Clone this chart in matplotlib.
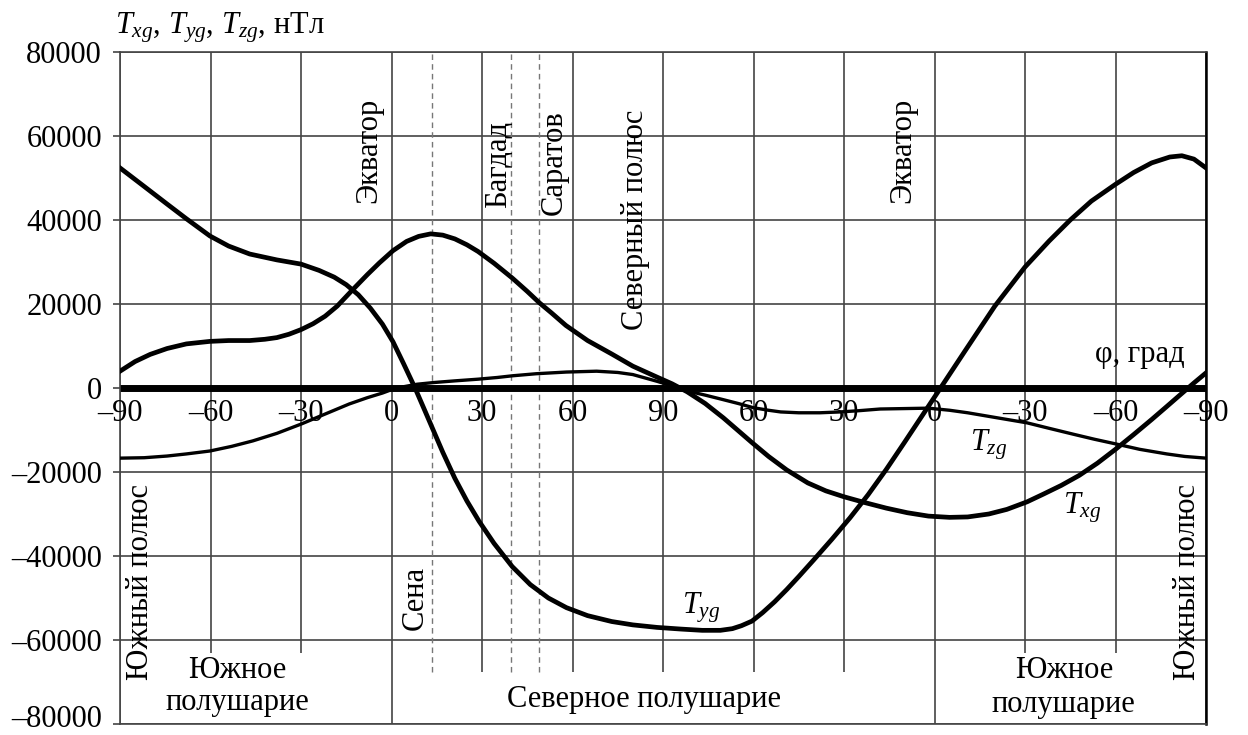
import matplotlib
matplotlib.use('Agg')
import matplotlib.pyplot as plt
import matplotlib.transforms as mtransforms

plt.rcParams['font.family'] = 'Liberation Serif'
plt.rcParams['mathtext.fontset'] = 'custom'
plt.rcParams['mathtext.rm'] = 'Liberation Serif'
plt.rcParams['mathtext.it'] = 'Liberation Serif:italic'

# position along the meridian, deg (0..360), and field values, nT
tyg_p = [0, 8, 15.6, 22, 29.8, 36, 43, 52, 60, 66, 71, 75, 79, 83, 87, 90.5, 94, 97.8, 101, 104,
         107, 111, 115, 119, 124, 130, 136, 142, 148, 155, 163, 170, 178, 186, 193, 199, 203, 206, 209.5, 213,
         217, 221, 225, 230, 236, 242, 248, 254, 260, 266, 272, 280, 290, 300, 308, 315, 322, 330, 336, 342,
         348, 352, 356, 360]
tyg_v = [52400, 48000, 43800, 40300, 36200, 33800, 31900, 30500, 29500, 28000, 26400, 24600, 22200, 19000,
         15200, 11000, 5800, 0, -5300, -10300, -15300, -21500, -26900, -31700, -37000, -42500, -46800, -50000,
         -52300, -54200, -55600, -56400, -57000, -57400, -57700, -57700, -57300, -56600, -55500, -53500,
         -50900, -48000, -44900, -40900, -36000, -30900, -25400, -19400, -13000, -6500, 0, 8700, 19500, 28800,
         35000, 40000, 44500, 48500, 51300, 53600, 55000, 55300, 54500, 52400]

txg_p = [0, 5, 10, 15.6, 22, 29.8, 36, 43, 48, 52, 56, 60, 64, 68, 72, 77, 82, 86, 90.5, 95,
         99, 103, 107, 111, 115, 118.7, 124, 130, 135, 139, 143, 147.8, 155, 163, 170, 178, 183, 188, 194, 200,
         205, 209.5, 215, 221, 228, 234, 240, 247, 254, 261, 268, 275, 281, 288, 294, 300.7, 306, 312, 318, 324,
         330, 336, 342, 347, 351, 356, 360]
txg_v = [4000, 6300, 8000, 9400, 10500, 11100, 11300, 11300, 11600, 12000, 12800, 13900, 15300, 17100, 19500,
         23300, 27000, 29800, 32700, 34900, 36100, 36700, 36400, 35500, 34100, 32500, 29700, 26200, 23000, 20300,
         17900, 14900, 11300, 8100, 5200, 2600, 1000, -900, -3700, -7100, -10200, -13000, -16300, -19500,
         -22600, -24500, -25900, -27300, -28600, -29700, -30500, -30800, -30700, -30000, -28900, -27100,
         -25300, -23200, -20800, -17900, -14600, -11100, -7500, -4400, -1900, 1200, 3600]

tzg_p = [0, 8, 15.6, 22, 29.8, 37, 44, 52, 60, 68, 76, 82, 87, 90, 94, 98.5, 104, 111, 118.7, 125,
         130, 138, 148, 158, 165, 170, 178, 183, 188, 194, 199, 205, 210, 215, 219, 225, 232, 238.7, 245, 252,
         260, 268, 275, 281, 290, 300.7, 308, 316, 323, 330, 338, 347, 353, 360]
tzg_v = [-16700, -16600, -16200, -15700, -15000, -13900, -12600, -10800, -8600, -6200, -3800, -2300, -1200,
         -400, 300, 900, 1300, 1700, 2100, 2500, 2900, 3400, 3800, 4000, 3700, 3200, 1600, 500, -700, -1700,
         -2600, -3700, -4700, -5300, -5700, -5900, -5900, -5700, -5400, -5000, -4900, -4800, -5300, -5900,
         -7000, -8300, -9600, -11000, -12200, -13300, -14600, -15700, -16300, -16700]

x_ticks = [0, 30, 60, 90, 120, 150, 180, 210, 240, 270, 300, 330, 360]
x_labels = ['–90', '–60', '–30', '0', '30', '60', '90', '60', '30', '0', '–30', '–60', '–90']
y_ticks = [-80000, -60000, -40000, -20000, 0, 20000, 40000, 60000, 80000]
y_labels = ['–80000', '–60000', '–40000', '–20000', '0', '20000', '40000', '60000', '80000']

cities = ['Сена', 'Багдад', 'Саратов']
city_p = [103.5, 129.5, 139]

FS = 22
GRID = '#444444'

fig = plt.figure(figsize=(12.48, 7.35), dpi=100)
ax = fig.add_axes([120 / 1248, 11 / 735, 1086 / 1248, 672 / 735])
ax.set_xlim(0, 360)
ax.set_ylim(-80000, 80000)

# grid
for y in y_ticks:
    if y != 0:
        ax.axhline(y, color=GRID, lw=1.2, zorder=1)
for x in x_ticks:
    if x in (0, 90, 270, 360):
        ax.axvline(x, color=GRID, lw=1.2, zorder=1)
    elif 90 < x < 270:
        ax.vlines(x, -67500, 80000, color=GRID, lw=1.2, zorder=1)
    else:
        ax.vlines(x, -63000, 80000, color=GRID, lw=1.2, zorder=1)
for p in city_p:
    ax.vlines(p, -67500, 80000, color='#777777', lw=1.0, linestyles=(0, (4, 3)), zorder=1)
ax.axhline(0, color='black', lw=5, zorder=2)

ax.plot(tyg_p, tyg_v, color='black', lw=3.4, zorder=3, solid_joinstyle='round')
ax.plot(txg_p, txg_v, color='black', lw=3.4, zorder=3, solid_joinstyle='round')
ax.plot(tzg_p, tzg_v, color='black', lw=2.4, zorder=3, solid_joinstyle='round')

ax.set_xticks([])
ax.set_yticks(y_ticks)
ax.set_yticklabels(y_labels, fontsize=FS)
ax.tick_params(axis='y', length=5, width=1.2, color=GRID, pad=8)
# keep the lowest label inside the picture
low = ax.get_yticklabels()[0]
low.set_transform(low.get_transform() + mtransforms.ScaledTranslation(0, 6 / 72, fig.dpi_scale_trans))
for s in ax.spines.values():
    s.set_color(GRID)
    s.set_linewidth(1.2)
ax.spines['right'].set_color('black')
ax.spines['right'].set_linewidth(1.8)

for x, lab in zip(x_ticks, x_labels):
    ax.text(x, -7900, lab, fontsize=FS, ha='center', va='baseline', zorder=4)

# rotated labels
rot = dict(rotation=90, rotation_mode='anchor', ha='left', va='baseline', fontsize=FS)
ax.text(84.9, 44000, 'Экватор', **rot)
ax.text(261.9, 44000, 'Экватор', **rot)
ax.text(128, 42900, cities[1], **rot)
ax.text(146.5, 41200, cities[2], **rot)
ax.text(100.4, -57600, cities[0], **rot)
ax.text(173.4, 13800, 'Северный полюс', **rot)
ax.text(9.3, -69500, 'Южный полюс', **rot)
ax.text(356.3, -69500, 'Южный полюс', **rot)

ax.text(38.8, -69000, 'Южное', fontsize=FS, ha='center', va='baseline')
ax.text(38.8, -76700, 'полушарие', fontsize=FS, ha='center', va='baseline')
ax.text(313, -69000, 'Южное', fontsize=FS, ha='center', va='baseline')
ax.text(312.6, -77100, 'полушарие', fontsize=FS, ha='center', va='baseline')
ax.text(173.7, -76000, 'Северное полушарие', fontsize=FS, ha='center', va='baseline')

ax.text(186.3, -53600, r'$T_{yg}$', fontsize=FS, ha='left', va='baseline')
ax.text(281.8, -14800, r'$T_{zg}$', fontsize=FS, ha='left', va='baseline')
ax.text(312.6, -29800, r'$T_{xg}$', fontsize=FS, ha='left', va='baseline')
ax.text(323.2, 6200, 'φ, град', fontsize=FS, ha='left', va='baseline')
ax.text(-1.7, 84500, r'$T_{xg}$, $T_{yg}$, $T_{zg}$, нТл', fontsize=FS, ha='left', va='baseline',
        clip_on=False)

fig.savefig('out.png', dpi=100)
